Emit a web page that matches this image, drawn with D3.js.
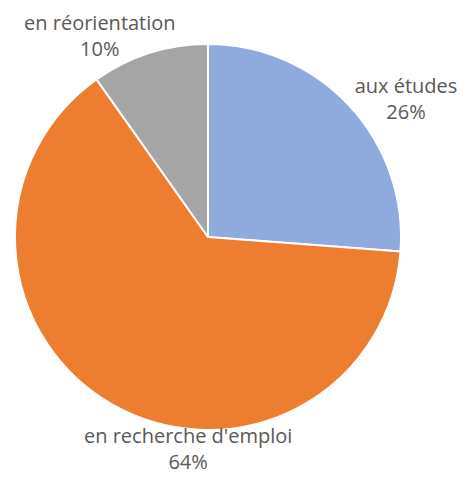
<!DOCTYPE html>
<html>
<head>
<meta charset="utf-8">
<script src="https://cdn.jsdelivr.net/npm/d3@7"></script>
<style>
  html, body { margin: 0; padding: 0; background: #fff; }
  svg { display: block; }
  .lbl { font-family: "Open Sans", sans-serif; font-size: 20px; fill: #595959; }
</style>
</head>
<body>
<svg id="chart" width="471" height="477"></svg>
<script>
// categories / values, in drawing order (clockwise from 12 o'clock)
let categories = ["aux études", "en recherche d'emploi", "en réorientation"];
let values = [26.2, 64, 9.8];
let valueLabels = ["26%", "64%", "10%"];
let colors = ["#8faadc", "#ed7d31", "#a5a5a5"];

let cx = 208, cy = 237, radius = 193;

var data = categories.map(function(c, i) {
    return { name: c, value: values[i], label: valueLabels[i], color: colors[i] };
});

let svg = d3.select("#chart");
let g = svg.append("g").attr("transform", "translate(" + cx + "," + cy + ")");

let pie = d3.pie().sort(null).value(function(d) { return d.value; });
let arc = d3.arc().innerRadius(0).outerRadius(radius);
let arcs = pie(data);

g.selectAll("path")
    .data(arcs)
  .enter().append("path")
    .attr("d", arc)
    .attr("fill", function(d) { return d.data.color; })
    .attr("stroke", "#fff")
    .attr("stroke-width", 2)
    .attr("stroke-linejoin", "round");

// labels sit outside the pie along the slice middle, then nudged (best fit)
let labelR = 225;
let nudge = [[33, 9], [91, 10], [-40, 7]];

var lab = g.selectAll("text.lbl")
    .data(arcs)
  .enter().append("text")
    .attr("class", "lbl")
    .attr("text-anchor", "middle")
    .attr("transform", function(d, i) {
        var mid = (d.startAngle + d.endAngle) / 2;
        var x = Math.sin(mid) * labelR + nudge[i][0],
            y = -Math.cos(mid) * labelR + nudge[i][1];
        return "translate(" + x + "," + y + ")";
    });

lab.append("tspan").attr("x", 0).attr("dy", 0).text(function(d) { return d.data.name; });
lab.append("tspan").attr("x", 0).attr("dy", 26).text(function(d) { return d.data.label; });
</script>
</body>
</html>
